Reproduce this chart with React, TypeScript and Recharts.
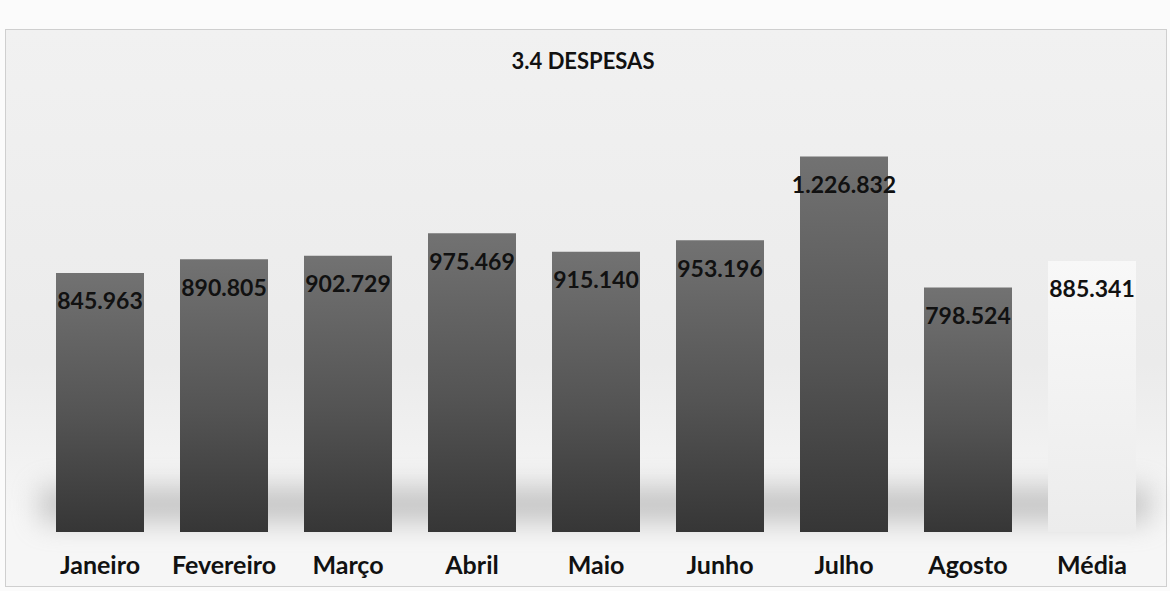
import React from 'react';
import { BarChart, Bar, XAxis, YAxis, Cell, LabelList } from 'recharts';

const meses = ['Janeiro', 'Fevereiro', 'Março', 'Abril', 'Maio', 'Junho', 'Julho', 'Agosto', 'Média'];
const despesas = [845963, 890805, 902729, 975469, 915140, 953196, 1226832, 798524, 885341];

const data = meses.map((mes, i) => ({ mes, valor: despesas[i] }));

// 845963 -> "845.963"
const fmt = (v: number) => String(v).replace(/\B(?=(\d{3})+(?!\d))/g, '.');

const FONT = 'Lato, "Open Sans", sans-serif';

export default function App() {
  return (
    <div
      style={{
        position: 'absolute',
        top: 0,
        left: 0,
        width: 1170,
        height: 591,
        background: '#fbfbfb',
        fontFamily: FONT,
        overflow: 'hidden',
      }}
    >
      {/* moldura do gráfico */}
      <div
        style={{
          position: 'absolute',
          left: 5,
          top: 29,
          width: 1160,
          height: 556,
          border: '1px solid #cfcfcf',
          background: 'linear-gradient(#f1f1f1, #ebebeb 60%, #f6f6f6 88%)',
        }}
      />
      {/* sombra/reflexo na base das barras */}
      <div
        style={{
          position: 'absolute',
          left: 40,
          top: 488,
          width: 1110,
          height: 34,
          background: '#9a9a9a',
          filter: 'blur(14px)',
          opacity: 0.55,
        }}
      />
      <div
        style={{
          position: 'absolute',
          top: 47,
          left: 0,
          width: 1166,
          textAlign: 'center',
          fontSize: 22,
          fontWeight: 700,
          color: '#111',
        }}
      >
        3.4 DESPESAS
      </div>
      <div style={{ position: 'absolute', top: 0, left: 0 }}>
        <BarChart
          width={1170}
          height={591}
          data={data}
          margin={{ top: 134, right: 16, bottom: 9, left: 38 }}
        >
          <defs>
            <linearGradient id="gradEscuro" x1="0" y1="0" x2="0" y2="1">
              <stop offset="0%" stopColor="#727272" />
              <stop offset="55%" stopColor="#545454" />
              <stop offset="100%" stopColor="#363636" />
            </linearGradient>
            <linearGradient id="gradClaro" x1="0" y1="0" x2="0" y2="1">
              <stop offset="0%" stopColor="#f8f8f8" />
              <stop offset="100%" stopColor="#ececec" />
            </linearGradient>
          </defs>
          <XAxis
            dataKey="mes"
            axisLine={false}
            tickLine={false}
            height={50}
            tickMargin={18}
            interval={0}
            tick={{ fontSize: 25, fontWeight: 700, fill: '#111', fontFamily: FONT }}
          />
          <YAxis hide domain={[0, 1300000]} />
          <Bar dataKey="valor" barSize={88} isAnimationActive={false}>
            {data.map((d, i) => (
              <Cell key={d.mes} fill={i === data.length - 1 ? 'url(#gradClaro)' : 'url(#gradEscuro)'} />
            ))}
            <LabelList
              dataKey="valor"
              position="insideTop"
              offset={20}
              formatter={(v: any) => fmt(Number(v))}
              style={{ fontSize: 23, fontWeight: 700, fill: '#111', fontFamily: FONT }}
            />
          </Bar>
        </BarChart>
      </div>
    </div>
  );
}
